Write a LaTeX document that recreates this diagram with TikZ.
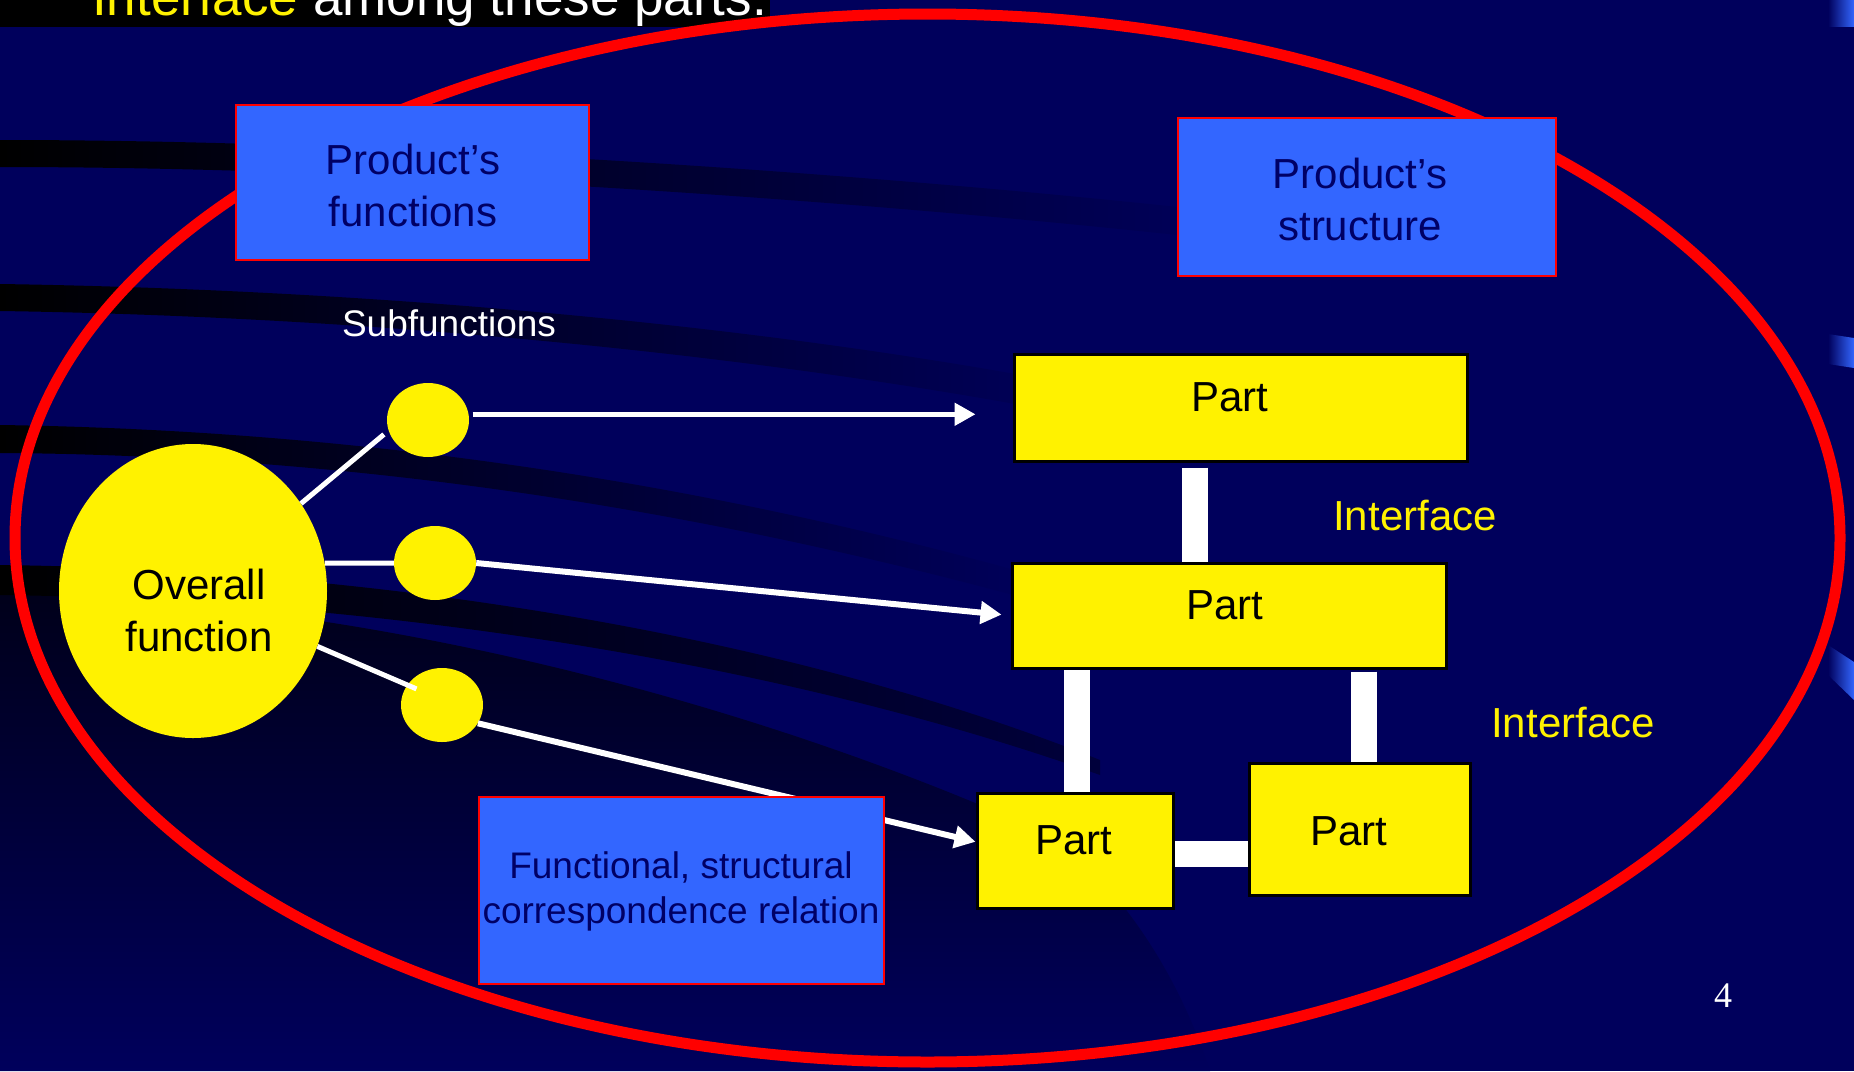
\documentclass[tikz,border=0pt]{standalone}
\usepackage{fontspec}
\setmainfont{Liberation Sans}
\newfontfamily\numfont{Liberation Serif}
\usetikzlibrary{shapes.geometric,arrows.meta}

\definecolor{slidebg}{RGB}{0,0,92}
\definecolor{slidedark}{RGB}{0,0,26}
\definecolor{boxblue}{RGB}{51,102,255}
\definecolor{boxtext}{RGB}{0,0,102}

\pgfdeclarelayer{backdrop}
\pgfdeclarelayer{links}
\pgfsetlayers{backdrop,links,main}

\tikzset{
  bluebox/.style={draw=red, line width=2pt, fill=boxblue, inner sep=0pt},
  partbox/.style={draw=black, line width=3pt, fill=yellow, inner sep=0pt},
  bigbubble/.style={ellipse, fill=yellow, inner sep=0pt, minimum width=268pt, minimum height=294pt},
  bubble/.style={ellipse, fill=yellow, inner sep=0pt, minimum width=82pt, minimum height=74pt},
  boxlabel/.style={text=boxtext, align=center, inner sep=0pt, font=\fontsize{42pt}{52pt}\selectfont},
  smalllabel/.style={align=center, inner sep=0pt, font=\fontsize{37pt}{45pt}\selectfont},
  partlabel/.style={text=black, align=center, inner sep=0pt, font=\fontsize{42pt}{52pt}\selectfont},
  iflabel/.style={text=yellow, inner sep=0pt, font=\fontsize{42pt}{52pt}\selectfont},
  stem/.style={draw=white, line width=5pt},
  flow/.style={draw=white, line width=6pt, -{Triangle[length=21pt,width=22pt]}},
  bar/.style={draw=white, line width=26pt},
  edgestripe/.style={left color=slidebg, right color=boxblue},
}

\begin{document}
\begin{tikzpicture}[x=1pt,y=-1pt]
\useasboundingbox (0,0) rectangle (1854,1071);

% ---------- slide background ----------
\begin{pgfonlayer}{backdrop}
  \fill[slidebg] (0,0) rectangle (1854,1071);
  % dark sweep in the lower left
  \shade[top color=slidedark, bottom color=slidebg]
    (0,593) .. controls (400,600) and (800,720) .. (1060,840)
    .. controls (1130,900) and (1180,980) .. (1210,1071) -- (0,1071) -- cycle;
  % dark curved streaks
  \shade[left color=black, right color=slidebg]
    (0,140) .. controls (400,140) and (900,175) .. (1250,215)
    -- (1250,243) .. controls (900,203) and (400,167) .. (0,167) -- cycle;
  \shade[left color=black, right color=slidebg]
    (0,284) .. controls (400,290) and (800,330) .. (1100,390)
    -- (1100,420) .. controls (800,360) and (400,317) .. (0,311) -- cycle;
  \shade[left color=black, right color=slidebg]
    (0,425) .. controls (350,430) and (700,480) .. (1050,580)
    -- (1050,605) .. controls (700,508) and (350,455) .. (0,453) -- cycle;
  \shade[left color=black, right color=slidedark!50!slidebg]
    (0,565) .. controls (400,570) and (800,640) .. (1100,760)
    -- (1100,775) .. controls (800,668) and (400,600) .. (0,595) -- cycle;
  % blue stripes on the right edge
  \shade[edgestripe] (1828,0) -- (1854,0) -- (1854,26) -- (1828,26) -- cycle;
  \shade[edgestripe] (1828,334) -- (1854,338) -- (1854,368) -- (1828,364) -- cycle;
  \shade[edgestripe] (1828,645) -- (1854,662) -- (1854,700) -- (1828,675) -- cycle;
  % title strip
  \fill[black] (0,0) rectangle (770,27);
\end{pgfonlayer}

\node[anchor=base west, inner sep=0pt, font=\fontsize{53pt}{60pt}\selectfont]
  (title) at (92,15) {\textcolor{yellow}{Interface} \textcolor{white}{among these parts.}};

% ---------- red boundary ----------
\draw[red, line width=11pt] (927.5,538) ellipse [x radius=912.5, y radius=524];

% ---------- headings ----------
\node[bluebox, minimum width=353pt, minimum height=155pt] (pf) at (412.5,182.5) {};
\node[boxlabel] (pft) at (413,185) {Product’s\\functions};
\node[bluebox, minimum width=378pt, minimum height=158pt] (ps) at (1367,197) {};
\node[boxlabel] (pst) at (1360,199) {Product’s\\structure};

\node[smalllabel, text=white] (sub) at (449,323) {Subfunctions};

% ---------- function side ----------
\node[bigbubble] (ov) at (193,591) {};
\node[partlabel] (ovt) at (199,610) {Overall\\function};
\node[bubble] (c1) at (428,420) {};
\node[bubble] (c2) at (435,563) {};
\node[bubble] (c3) at (442,705) {};

\draw[stem, shorten >=6pt] (ov.39) -- (c1.195);
\draw[stem] (ov.12) -- (c2.west);
\draw[stem, shorten >=-10pt] (ov.-24) -- (c3.150);

% ---------- structure side ----------
\node[partbox, minimum width=453pt, minimum height=107pt] (P1) at (1240.5,407.5) {};
\node[partbox, minimum width=434pt, minimum height=105pt] (P2) at (1229,615.5) {};
\node[partbox, minimum width=196pt, minimum height=115pt] (P3) at (1075,850.5) {};
\node[partbox, minimum width=221pt, minimum height=132pt] (P4) at (1359.5,829) {};
\node[partlabel] (P1t) at (1230,397) {Part};
\node[partlabel] (P2t) at (1225,605) {Part};
\node[partlabel] (P3t) at (1074,840) {Part};
\node[partlabel] (P4t) at (1349,831) {Part};

\begin{pgfonlayer}{links}
  \draw[bar, shorten <=5pt] ([xshift=-45.5pt]P1.south) -- ([xshift=-34pt]P2.north);
  \draw[bar] ([xshift=-152pt]P2.south) -- ([xshift=2pt]P3.north);
  \draw[bar, shorten <=2pt] ([xshift=135pt]P2.south) -- ([xshift=4.5pt]P4.north);
  \draw[bar] ([yshift=-3.5pt]P3.east) -- ([yshift=-25pt]P4.west);
\end{pgfonlayer}

\node[iflabel] (if1) at (1415,516) {Interface};
\node[iflabel] (if2) at (1573,722) {Interface};

% ---------- correspondence arrows ----------
\draw[flow, line width=5pt, shorten <=4pt, shorten >=37pt] (c1.8) -- (c1.8 -| P1.west);
\draw[flow, shorten >=9pt] (c2.east) -- (P2.west);
\draw[flow] (c3.-27) -- (P3.175);

% ---------- relation box ----------
\node[bluebox, minimum width=405pt, minimum height=187pt] (fb) at (681.5,890.5) {};
\node[smalllabel, text=boxtext] (fbt) at (681,891.5) {Functional, structural\\correspondence relation};

% ---------- page number ----------
\node[inner sep=0pt, text=white, font=\numfont\fontsize{36pt}{40pt}\selectfont] (pg) at (1723,996) {4};
\end{tikzpicture}
\end{document}
